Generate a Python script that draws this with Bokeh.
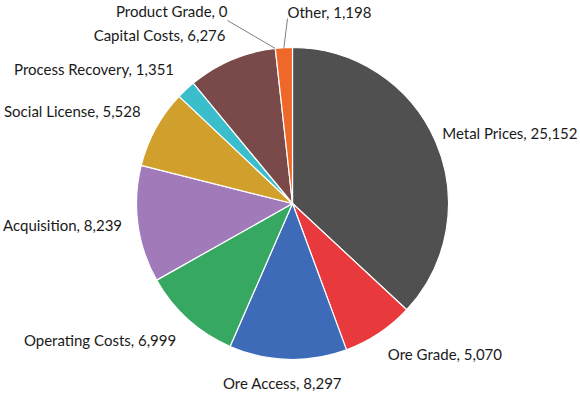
import math
from bokeh.plotting import figure
from bokeh.models import Range1d
from bokeh.core.properties import value
from bokeh.embed import file_html
from bokeh.resources import INLINE

# ---- data ----
categories = ["Metal Prices", "Ore Grade", "Ore Access", "Operating Costs", "Acquisition",
              "Social License", "Process Recovery", "Capital Costs", "Product Grade", "Other"]
values = [25152, 5070, 8297, 6999, 8239, 5528, 1351, 6276, 0, 1198]
colors = ["#505050", "#e8393c", "#3d6bb8", "#37a862", "#a07ab9",
          "#d19f2c", "#3bbecb", "#7a4a4a", "#8c8c8c", "#f0672a"]

# ---- layout ----
W, H = 580, 393
CX, CY, R = 292, 190, 156
LABEL_R = R + 16
# per-label nudges (dx, dy) in pixels
nudges = {
    "Metal Prices": (-8, 2), "Ore Grade": (0, -7), "Ore Access": (-5, -8),
    "Operating Costs": (-1, -9), "Acquisition": (0, 1), "Social License": (-1, 10),
    "Process Recovery": (-1, 9), "Capital Costs": (0, 10),
}
# labels with leader lines: text anchor (x, y), alignment, line start offset
leader_labels = {
    "Product Grade": ((227, 383), "right", (0, -10)),
    "Other": ((287, 382), "left", (0, -7)),
}

total = sum(values)
starts, ends, mids = [], [], []
cum = 0.0
for v in values:
    a0 = math.pi / 2 - 2 * math.pi * cum / total
    cum += v
    a1 = math.pi / 2 - 2 * math.pi * cum / total
    starts.append(a0)
    ends.append(a1)
    mids.append((a0 + a1) / 2)

p = figure(width=W, height=H, x_range=Range1d(0, W), y_range=Range1d(0, H),
           output_backend="svg", toolbar_location=None, min_border=0)
p.axis.visible = False
p.grid.visible = False
p.outline_line_color = None
p.background_fill_color = "white"
p.border_fill_color = "white"

keep = [i for i, v in enumerate(values) if v > 0]
p.wedge(x=CX, y=CY, radius=R,
        start_angle=[starts[i] for i in keep], end_angle=[ends[i] for i in keep],
        direction="clock", fill_color=[colors[i] for i in keep],
        line_color="white", line_width=1.2)

font = value("Lato")
for cat, v, m in zip(categories, values, mids):
    text = f"{cat}, {v:,}"
    if cat in leader_labels:
        (lx, ly), align, (ox, oy) = leader_labels[cat]
        ex = CX + R * math.cos(m)
        ey = CY + R * math.sin(m)
        p.line(x=[lx + ox, ex], y=[ly + oy, ey], line_color="#7f7f7f", line_width=1)
        p.text(x=[lx], y=[ly], text=[text], text_align=align, text_baseline="middle",
               text_font=font, text_font_size="15px", text_color="#1a1a1a")
        continue
    dx, dy = nudges[cat]
    ax = CX + LABEL_R * math.cos(m) + dx
    ay = CY + LABEL_R * math.sin(m) + dy
    align = "left" if math.cos(m) > 0.1 else ("right" if math.cos(m) < -0.1 else "center")
    p.text(x=[ax], y=[ay], text=[text], text_align=align, text_baseline="middle",
           text_font=font, text_font_size="15px", text_color="#1a1a1a")

open("out.html", "w").write(file_html(p, INLINE))
